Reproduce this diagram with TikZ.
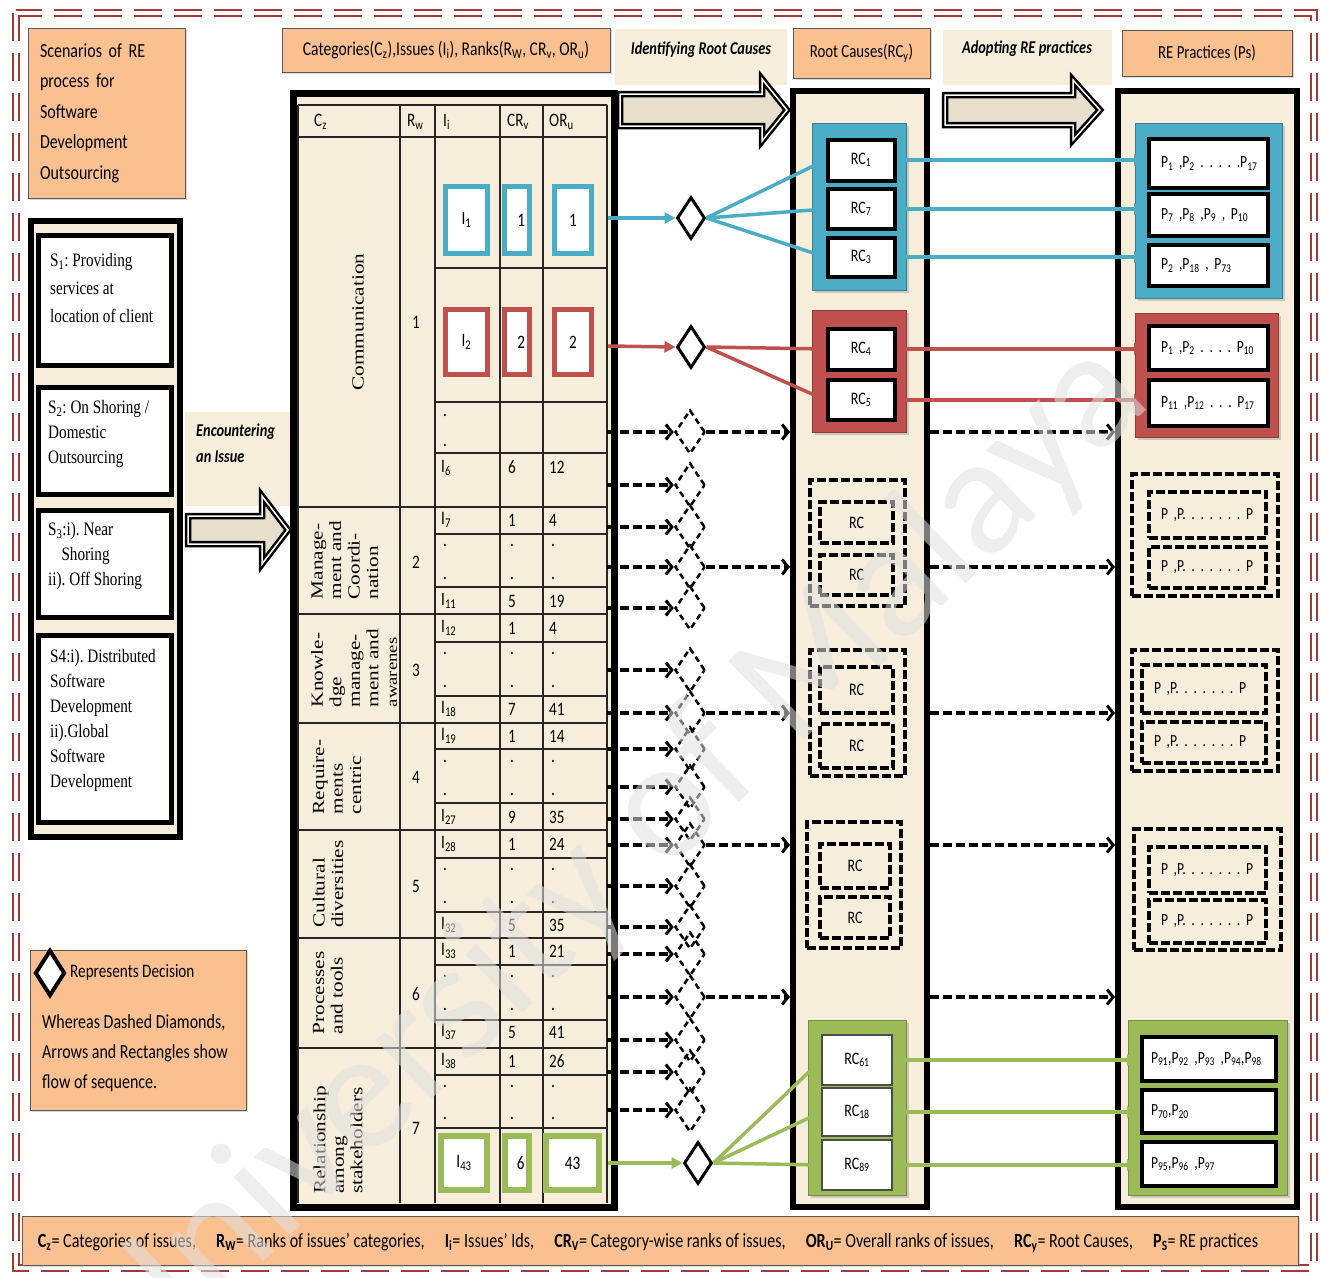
\documentclass[tikz,border=0pt]{standalone}
\usepackage{fontspec}
\setmainfont{Carlito}[FakeStretch=0.8]
\newfontfamily\tnr{Liberation Serif}[FakeStretch=0.8]
\newfontfamily\tnrv{Liberation Serif}[FakeStretch=1.25]
\newfontfamily\wmfont{Carlito}
\usetikzlibrary{arrows.meta,positioning,calc,shapes.geometric,shadows}
\definecolor{peach}{HTML}{FAC090}
\definecolor{parch}{HTML}{F6EEDA}
\definecolor{brd}{HTML}{A33A36}
\definecolor{rcblue}{HTML}{4BACC6}
\definecolor{rcred}{HTML}{C0504D}
\definecolor{rcgreen}{HTML}{9BBB59}
\definecolor{shaftfill}{HTML}{E6DFCB}
\newcommand{\fs}[2]{\fontsize{#1}{#2}\selectfont}
\newcommand{\sbs}[1]{\textsubscript{#1}}
\tikzset{
  hdr/.style   ={draw=black!65,fill=peach,line width=1pt,inner sep=0pt,
                 drop shadow={shadow xshift=2pt,shadow yshift=-2pt,opacity=0.3}},
  hnote/.style ={fill=parch,inner sep=0pt},
  colbox/.style={draw=black,line width=6pt,fill=parch,inner sep=0pt},
  sbox/.style  ={draw=black,line width=5pt,fill=white,inner sep=0pt},
  stxt/.style  ={font=\tnr\fs{19}{25},align=left,anchor=north west,inner sep=0pt},
  tline/.style ={draw=black!85,line width=1.3pt},
  tl/.style    ={font=\fs{19}{19},anchor=west,inner sep=0pt},
  tv/.style    ={font=\fs{19}{19},inner sep=0pt},
  dotm/.style  ={font=\fs{19}{19},inner sep=0pt},
  cat/.style   ={font=\tnrv\fs{17}{18.5},rotate=90,align=left,inner sep=0pt},
  hit/.style   ={draw=#1,line width=5pt,fill=white,inner sep=0pt,font=\fs{19}{19}},
  grp/.style   ={fill=#1,draw=#1!75!black,line width=1pt,inner sep=0pt,
                 drop shadow={shadow xshift=3pt,shadow yshift=-3pt,opacity=0.35}},
  rcf/.style   ={font=\fs{17.5}{17.5}},
  rcin/.style  ={draw=black,line width=4pt,fill=white,inner sep=0pt,rcf},
  rcthin/.style={draw=black!70,line width=1.2pt,fill=white,inner sep=0pt,rcf},
  pbox/.style  ={draw=black,line width=4pt,fill=white,inner xsep=12pt,inner ysep=0pt,
                 align=left,font=\fs{17}{17}},
  dgrp/.style  ={draw=black,line width=4pt,dash pattern=on 9pt off 3pt,inner sep=0pt},
  dpbox/.style ={dgrp,inner xsep=12pt,align=left,font=\fs{17}{17}},
  dec/.style   ={diamond,draw=black,line width=3pt,fill=white,inner sep=0pt,
                 minimum width=28pt,minimum height=42pt},
  ddec/.style  ={diamond,draw=black,line width=2.5pt,dash pattern=on 6pt off 4pt,
                 inner sep=0pt,minimum width=30pt,minimum height=44pt},
  car/.style   ={draw=#1,line width=3.5pt,-{Triangle[length=11pt,width=11pt]}},
  dar/.style   ={draw=black,line width=4pt,dash pattern=on 9pt off 4pt,
                 -{Straight Barb[length=6pt,width=15pt,line width=3pt]}},
  blk/.style   ={draw=black,line width=2.5pt,double=white,double distance=1.5pt,
                 fill=shaftfill,line join=miter},
  frm/.style   ={draw=brd,line width=2.5pt,double=white,double distance=3.5pt,
                 dash pattern=on 28pt off 12pt},
}
\begin{document}
\frenchspacing
\begin{tikzpicture}[x=1pt,y=-1pt]
  \useasboundingbox (0,0) rectangle (1329,1277);
  \draw[frm] (16,13) rectangle (1314,1268);

  % headers
  \node[hdr,minimum height=170pt,text width=133pt,inner xsep=12pt,align=left,font=\fs{20}{30.5}] (scen) at (106.5,113)
    {Scenarios of RE\\process for\\Software\\Development\\Outsourcing};
  \node[hdr,minimum width=328pt,minimum height=44pt,font=\fs{19.5}{19.5}] (cath) at (446,50)
    {Categories(C\sbs{z}),Issues (I\sbs{i}), Ranks(R\sbs{W}, CR\sbs{v}, OR\sbs{u})};
  \node[hnote,minimum width=172pt,minimum height=56pt] (idn) at (701,57) {};
  \node[font=\bfseries\itshape\fs{18}{18},inner sep=0pt] (idt) at (701,50) {Identifying Root Causes};
  \node[hdr,minimum width=137pt,minimum height=50pt,font=\fs{18.5}{18.5}] (rch) at (861.5,53) {Root Causes(RC\sbs{y})};
  \node[hnote,minimum width=169pt,minimum height=55pt] (adn) at (1027.5,57) {};
  \node[font=\bfseries\itshape\fs{18}{18},inner sep=0pt] (adt) at (1027,49) {Adopting RE practices};
  \node[hdr,minimum width=170pt,minimum height=46pt,font=\fs{18.5}{18.5}] (reh) at (1207,53) {RE Practices (Ps)};

  % scenarios
  \node[colbox,minimum width=149pt,minimum height=616pt] (scol) at (105.5,529) {};
  \node[sbox,minimum width=133pt,minimum height=130pt] (s1) at (105,300.5) {};
  \node[sbox,minimum width=133pt,minimum height=107pt] (s2) at (105,441) {};
  \node[sbox,minimum width=133pt,minimum height=107pt] (s3) at (105,564) {};
  \node[sbox,minimum width=133pt,minimum height=187pt] (s4) at (105,729) {};
  \node[stxt,font=\tnr\fs{19}{28}] (s1t) at (50,253) {S\sbs{1}: Providing\\services at\\location of client};
  \node[stxt] (s2t) at (48,400) {S\sbs{2}: On Shoring /\\Domestic\\Outsourcing};
  \node[stxt] (s3t) at (48,522) {S\sbs{3}:i). Near\\\hspace*{0.7em}Shoring\\ii). Off Shoring};
  \node[stxt] (s4t) at (50,649) {S4:i). Distributed\\Software\\Development\\ii).Global\\Software\\Development};

  \node[hnote,minimum width=105pt,minimum height=94pt] (encn) at (237.5,459) {};
  \node[font=\bfseries\itshape\fs{18}{26},align=left,anchor=north west,inner sep=0pt] (enct) at (196,424) {Encountering\\an Issue};
  \draw[blk] (188,516) -- (262,516) -- (262,496) -- (288,530) -- (262,564) -- (262,544) -- (188,544) -- cycle;
  \draw[blk] (620,94) -- (762,94) -- (762,79) -- (787,110) -- (762,141) -- (762,126) -- (620,126) -- cycle;
  \draw[blk] (945,95) -- (1073,95) -- (1073,80) -- (1100,110) -- (1073,140) -- (1073,125) -- (945,125) -- cycle;

  % table
  \node[colbox,line width=7pt,minimum width=321pt,minimum height=1114pt] (tab) at (453.5,650) {};
  \foreach \xx in {298,400,435,500,543,607} \draw[tline] (\xx,105) -- (\xx,1203);
  \draw[tline] (298,105) -- (607,105);
  \foreach \yy in {137,507,614,723,830,938,1048} \draw[tline] (298,\yy) -- (607,\yy);
  \foreach \yy in {268,402,453,534,587,642,696,749,803,858,912,965,1020,1075,1128} \draw[tline] (435,\yy) -- (607,\yy);
  \node[tl] (hcz) at (314,122) {C\sbs{z}};
  \node[tl] (hrw) at (407,122) {R\sbs{w}};
  \node[tl] (hii) at (443,122) {I\sbs{i}};
  \node[tl] (hcr) at (507,122) {CR\sbs{v}};
  \node[tl] (hor) at (549,122) {OR\sbs{u}};

  \node[cat] (c1) at (358,322) {Communication};
  \node[cat] (c2) at (345,560) {Manage-\\ment and\\Coordi-\\nation};
  \node[cat] (c3) at (354,668) {Knowle-\\dge\\manage-\\ment and\\{\fs{15}{18.5}awarenes}};
  \node[cat] (c4) at (337,777) {Require-\\ments\\centric};
  \node[cat] (c5) at (328,884) {Cultural\\diversities};
  \node[cat] (c6) at (328,993) {Processes\\and tools};
  \node[cat] (c7) at (338,1140) {Relationship\\among\\stakeholders};
  \foreach \rk/\ry in {1/322,2/562,3/670,4/777,5/886,6/994,7/1128}
    \node[tv] (rw\rk) at (416,\ry) {\rk};

  \node[hit=rcblue,minimum width=42pt,minimum height=67pt] (i1) at (466.5,220) {I\sbs{1}};
  \node[hit=rcblue,minimum width=25pt,minimum height=67pt,text width=16pt,align=right] (cr1) at (517,220) {1};
  \node[hit=rcblue,minimum width=37pt,minimum height=67pt] (or1) at (573,220) {1};
  \node[hit=rcred,minimum width=42pt,minimum height=65pt] (i2) at (466.5,342) {I\sbs{2}};
  \node[hit=rcred,minimum width=25pt,minimum height=65pt,text width=16pt,align=right] (cr2) at (517,342) {2};
  \node[hit=rcred,minimum width=37pt,minimum height=65pt] (or2) at (573,342) {2};
  \node[dotm] (dc1) at (445,415) {.};
  \node[dotm] (dc2) at (445,445) {.};
  \node[tl] (ii6) at (441,468) {I\sbs{6}};
  \node[tv] (cr6) at (512,467) {6};
  \node[tl] (or6) at (549,467) {12};
  \foreach \t/\ia/\ca/\oa/\ib/\cb/\ob in {520/7/1/4/11/5/19,628/12/1/4/18/7/41,736/19/1/14/27/9/35,
                                         844/28/1/24/32/5/35,951/33/1/21/37/5/41}{
    \node[tl] (ii\ia) at (441,\t) {I\sbs{\ia}};
    \node[tv] (cr\ia) at (512,\t) {\ca};
    \node[tl] (or\ia) at (549,\t) {\oa};
    \foreach \xx in {445,512,553}{
      \node[dotm] (du\ia-\xx) at (\xx,\t+25) {.};
      \node[dotm] (dl\ia-\xx) at (\xx,\t+58) {.};
    }
    \node[tl] (ii\ib) at (441,\t+81) {I\sbs{\ib}};
    \node[tv] (cr\ib) at (512,\t+81) {\cb};
    \node[tl] (or\ib) at (549,\t+81) {\ob};
  }
  \node[tl] (ii38) at (441,1061) {I\sbs{38}};
  \node[tv] (cr38) at (512,1061) {1};
  \node[tl] (or38) at (549,1061) {26};
  \foreach \xx in {445,512,553}{
    \node[dotm] (du38-\xx) at (\xx,1086) {.};
    \node[dotm] (dl38-\xx) at (\xx,1118) {.};
  }
  \node[hit=rcgreen,line width=6pt,minimum width=46pt,minimum height=54pt] (i43) at (464,1163) {I\sbs{43}};
  \node[hit=rcgreen,line width=6pt,minimum width=24pt,minimum height=54pt,text width=15pt,align=right] (cr43) at (517,1163) {6};
  \node[hit=rcgreen,line width=6pt,minimum width=53pt,minimum height=54pt] (or43) at (572.5,1163) {43};

  % root causes and practices columns
  \node[colbox,minimum width=134pt,minimum height=1116pt] (rccol) at (860,649) {};
  \node[colbox,minimum width=179pt,minimum height=1116pt] (pcol) at (1207.5,649) {};

  \node[grp=rcblue,minimum width=94pt,minimum height=167pt] (gb) at (859,206.5) {};
  \node[rcin,minimum width=67pt,minimum height=41pt] (rc1) at (861,160) {RC\sbs{1}};
  \node[rcin,minimum width=67pt,minimum height=40pt] (rc7) at (861,209) {RC\sbs{7}};
  \node[rcin,minimum width=67pt,minimum height=39pt] (rc3) at (861,257) {RC\sbs{3}};
  \node[grp=rcred,minimum width=94pt,minimum height=122pt] (gr) at (859,371) {};
  \node[rcin,minimum width=67pt,minimum height=41pt] (rc4) at (861,349) {RC\sbs{4}};
  \node[rcin,minimum width=67pt,minimum height=40pt] (rc5) at (861,400) {RC\sbs{5}};
  \node[grp=rcgreen,minimum width=98pt,minimum height=175pt] (gg) at (857,1107.5) {};
  \node[rcthin,minimum width=70pt,minimum height=50pt] (rc61) at (857,1060) {RC\sbs{61}};
  \node[rcthin,minimum width=70pt,minimum height=48pt] (rc18) at (857,1112) {RC\sbs{18}};
  \node[rcthin,minimum width=70pt,minimum height=50pt] (rc89) at (857,1165) {RC\sbs{89}};

  \node[grp=rcblue,minimum width=147pt,minimum height=175pt] (gpb) at (1208.5,210.5) {};
  \node[pbox,text width=95pt,minimum height=49pt] (pb1) at (1208.5,163.5) {\mbox{P\sbs{1} ,P\sbs{2} . . . . .P\sbs{17}}};
  \node[pbox,text width=95pt,minimum height=42pt] (pb2) at (1208.5,215) {\mbox{P\sbs{7} ,P\sbs{8} ,P\sbs{9} , P\sbs{10}}};
  \node[pbox,text width=95pt,minimum height=41pt] (pb3) at (1208.5,265.5) {\mbox{P\sbs{2} ,P\sbs{18} , P\sbs{73}}};
  \node[grp=rcred,minimum width=143pt,minimum height=124pt] (gpr) at (1206.5,375) {};
  \node[pbox,text width=95pt,minimum height=44pt] (pr1) at (1208.5,348) {\mbox{P\sbs{1} ,P\sbs{2} . . . .\ P\sbs{10}}};
  \node[pbox,text width=95pt,minimum height=46pt] (pr2) at (1208.5,403) {\mbox{P\sbs{11} ,P\sbs{12} . . . P\sbs{17}}};
  \node[grp=rcgreen,minimum width=159pt,minimum height=175pt] (gpg) at (1207.5,1107.5) {};
  \node[pbox,inner xsep=9pt,text width=116pt,minimum height=44pt] (pg1) at (1209,1059) {\mbox{P\sbs{91},P\sbs{92} ,P\sbs{93} ,P\sbs{94},P\sbs{98}}};
  \node[pbox,inner xsep=9pt,text width=116pt,minimum height=43pt] (pg2) at (1209,1111.5) {\mbox{P\sbs{70},P\sbs{20}}};
  \node[pbox,inner xsep=9pt,text width=116pt,minimum height=44pt] (pg3) at (1209,1164) {\mbox{P\sbs{95},P\sbs{96} ,P\sbs{97}}};

  % dashed groups
  \node[dgrp,minimum width=95pt,minimum height=126pt] (dga) at (857.5,543) {};
  \node[dgrp,rcf,minimum width=73pt,minimum height=41pt] (dga1) at (856.5,522.5) {RC};
  \node[dgrp,rcf,minimum width=73pt,minimum height=40pt] (dga2) at (856.5,575) {RC};
  \node[dgrp,minimum width=95pt,minimum height=126pt] (dgb) at (857.5,713) {};
  \node[dgrp,rcf,minimum width=73pt,minimum height=46pt] (dgb1) at (856.5,690) {RC};
  \node[dgrp,rcf,minimum width=73pt,minimum height=44pt] (dgb2) at (856.5,746) {RC};
  \node[dgrp,minimum width=94pt,minimum height=126pt] (dgc) at (854,885) {};
  \node[dgrp,rcf,minimum width=70pt,minimum height=44pt] (dgc1) at (855,866) {RC};
  \node[dgrp,rcf,minimum width=70pt,minimum height=41pt] (dgc2) at (855,917.5) {RC};
  \node[dgrp,minimum width=146pt,minimum height=122pt] (dpa) at (1205,535) {};
  \node[dpbox,text width=93pt,minimum height=46pt] (dpa1) at (1207.5,515) {\mbox{P ,P. . . . . . . P}};
  \node[dpbox,text width=93pt,minimum height=41pt] (dpa2) at (1207.5,567.5) {\mbox{P ,P. . . . . . . P}};
  \node[dgrp,minimum width=146pt,minimum height=121pt] (dpb) at (1205,710.5) {};
  \node[dpbox,text width=100pt,minimum height=48pt] (dpb1) at (1204,689) {\mbox{P ,P. . . . . . . P}};
  \node[dpbox,text width=100pt,minimum height=41pt] (dpb2) at (1204,742.5) {\mbox{P ,P. . . . . . . P}};
  \node[dgrp,minimum width=147pt,minimum height=121pt] (dpc) at (1207.5,889.5) {};
  \node[dpbox,text width=93pt,minimum height=46pt] (dpc1) at (1207.5,870) {\mbox{P ,P. . . . . . . P}};
  \node[dpbox,text width=93pt,minimum height=43pt] (dpc2) at (1207.5,921.5) {\mbox{P ,P. . . . . . . P}};

  % decisions
  \coordinate (eb) at (608,218);
  \coordinate (er) at (608,346);
  \coordinate (eg) at (608,1163);
  \node[dec] (db) at (691,218) {};
  \node[dec] (dr) at (691,347) {};
  \node[dec] (dg) at (698,1163) {};
  \draw[car=rcblue] (eb) -- (db.west);
  \draw[car=rcred] (er) -- (dr.west);
  \draw[car=rcgreen] (eg) -- (dg.west);
  \foreach \r in {rc1,rc7,rc3} \draw[car=rcblue] (db.east) -- (\r.west);
  \foreach \r in {rc4,rc5} \draw[car=rcred] (dr.east) -- (\r.west);
  \foreach \r in {rc61,rc18,rc89} \draw[car=rcgreen] (dg.east) -- (\r.west);
  \foreach \r/\p in {rc1/pb1,rc7/pb2,rc3/pb3} \draw[car=rcblue] (\r.east) -- ([xshift=-2pt]\r.east -| \p.west);
  \foreach \r/\p in {rc4/pr1,rc5/pr2} \draw[car=rcred] (\r.east) -- ([xshift=-2pt]\r.east -| \p.west);
  \foreach \r/\p in {rc61/pg1,rc18/pg2,rc89/pg3} \draw[car=rcgreen] (\r.east) -- ([xshift=-2pt]\r.east -| \p.west);

  \foreach \yy in {432,485,527,567,608,670,713,749,787,819,845,886,927,954,997,1040,1072,1110}{
    \coordinate (ds\yy) at (607,\yy);
    \node[ddec] (dd\yy) at (690,\yy) {};
    \draw[dar] (ds\yy) -- (dd\yy.west);
  }
  \foreach \yy in {432,567,713,845,997}{
    \draw[dar] (dd\yy.east) -- (dd\yy.east -| rccol.west);
    \draw[dar] (dd\yy.east -| rccol.east) -- (dd\yy.east -| pcol.west);
  }

  % legends
  \node[hdr,minimum width=216pt,minimum height=160pt] (leg) at (138,1030) {};
  \node[dec,line width=4pt,minimum width=30pt,minimum height=46pt] (legd) at (50,973) {};
  \node[font=\fs{19}{19},anchor=west,inner sep=0pt] (legt) at (70,972) {Represents Decision};
  \node[font=\fs{20}{30},align=left,anchor=north west,inner sep=0pt] (legn) at (42,1014)
    {Whereas Dashed Diamonds,\\Arrows and Rectangles show\\flow of sequence.};
  \node[hdr,minimum width=1276pt,minimum height=49pt] (key) at (660,1240.5) {};
  \node[inner sep=0pt] (keyt) at (648,1243) {\resizebox{1220pt}{!}{\fs{18}{18}%
    \textbf{C\sbs{z}}= Categories of issues,\quad \textbf{R\sbs{W}}= Ranks of  issues’ categories,\quad
    \textbf{I\sbs{i}}= Issues’ Ids,\quad \textbf{CR\sbs{V}}= Category-wise ranks of issues,\quad
    \textbf{OR\sbs{U}}= Overall ranks of issues,\quad \textbf{RC\sbs{y}}= Root Causes,\quad \textbf{P\sbs{S}}= RE practices}};

  % watermark
  \node[font=\wmfont\fs{170}{170},text=black!12,opacity=0.55,rotate=44,inner sep=0pt] (wmk) at (615,860) {University of Malaya};
\end{tikzpicture}
\end{document}
